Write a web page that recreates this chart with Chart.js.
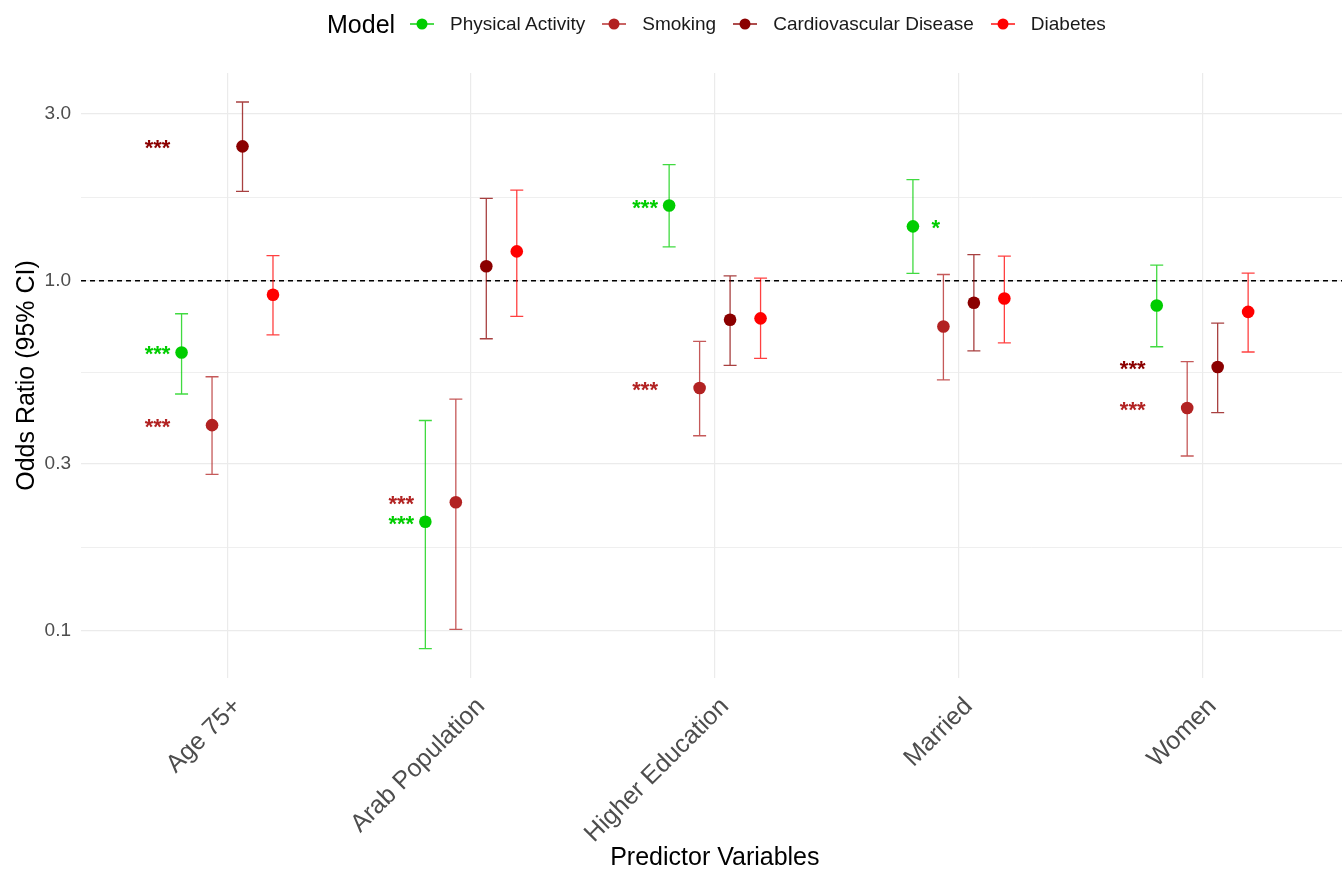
<!DOCTYPE html><html lang="en"><head><meta charset="utf-8">
<title>Odds ratios by model</title>
<script src="https://cdn.jsdelivr.net/npm/chart.js@4.4.1/dist/chart.umd.min.js"></script>
<style>
body { margin: 0; background: #fff; font-family: "Liberation Sans", Arial, sans-serif; overflow: hidden; }
#wrap { position: relative; width: 1342px; height: 871px; overflow: hidden; }
#legend { position: absolute; top: 0; left: 327px; height: 48px; display: flex; align-items: center; font-size: 19px; color: #1a1a1a; white-space: nowrap; }
#legend .ttl { font-size: 25px; color: #000; margin-right: 15px; }
#legend .item { display: flex; align-items: center; margin-right: 17px; }
#legend svg { margin-right: 16px; }
</style>
</head><body>
<div id=wrap>
<canvas id=chart width=1355 height=871></canvas>
<div id=legend><span class=ttl>Model</span></div>
</div>

<script>
const categories = ["Age 75+", "Arab Population", "Higher Education", "Married", "Women"];
const models = ["Physical Activity", "Smoking", "Cardiovascular Disease", "Diabetes"];
const colors = ["#00CD00", "#B22222", "#8B0000", "#FF0000"];

// odds ratio and 95% CI, one array per model, in category order
const orPA   = [0.624, 0.205, 1.64, 1.43, 0.850];
const loPA   = [0.475, 0.089, 1.25, 1.05, 0.648];
const hiPA   = [0.805, 0.399, 2.145, 1.944, 1.109];
const orSmk  = [0.387, 0.233, 0.494, 0.740, 0.433];
const loSmk  = [0.280, 0.101, 0.361, 0.521, 0.316];
const hiSmk  = [0.532, 0.459, 0.671, 1.042, 0.588];
const orCvd  = [2.42, 1.10, 0.774, 0.865, 0.567];
const loCvd  = [1.80, 0.683, 0.573, 0.631, 0.420];
const hiCvd  = [3.24, 1.72, 1.033, 1.187, 0.757];
const orDia  = [0.912, 1.213, 0.781, 0.890, 0.815];
const loDia  = [0.701, 0.791, 0.600, 0.665, 0.626];
const hiDia  = [1.179, 1.816, 1.018, 1.176, 1.052];

// significance stars: category index, model index, label
const sigCat   = [0, 0, 0, 1, 1, 2, 2, 3, 4, 4];
const sigModel = [2, 0, 1, 1, 0, 0, 1, 0, 2, 1];
const sigText  = ["***", "***", "***", "***", "***", "***", "***", "*", "***", "***"];

const yMajor = [0.1, 0.3, 1, 3];
const yMinor = [0.173, 0.548, 1.732];

const est = [orPA, orSmk, orCvd, orDia];
const lo = [loPA, loSmk, loCvd, loDia];
const hi = [hiPA, hiSmk, hiCvd, hiDia];
const dodge = models.map((m, k) => (k - 1.5) * 0.125);

// legend
const legend = document.getElementById("legend");
models.forEach((m, k) => {
  const it = document.createElement("span");
  it.className = "item";
  it.innerHTML = `<svg width="24" height="24"><line x1="0" y1="12" x2="24" y2="12" stroke="${colors[k]}" stroke-width="1.4"/>` +
    `<circle cx="12" cy="12" r="5.5" fill="${colors[k]}"/></svg><span>${m}</span>`;
  legend.appendChild(it);
});

const errorBars = {
  id: "errorBars",
  beforeDatasetsDraw(chart) {
    const { ctx, chartArea, scales: { x, y } } = chart;
    ctx.save();
    // reference line at OR = 1
    const y1 = y.getPixelForValue(1);
    ctx.strokeStyle = "#000";
    ctx.lineWidth = 1.3;
    ctx.setLineDash([5, 4]);
    ctx.beginPath();
    ctx.moveTo(chartArea.left, y1);
    ctx.lineTo(chartArea.right, y1);
    ctx.stroke();
    ctx.setLineDash([]);
    ctx.lineWidth = 1.3;
    ctx.globalAlpha = 0.75;
    models.forEach((m, k) => {
      ctx.strokeStyle = colors[k];
      categories.forEach((c, i) => {
        const px = x.getPixelForValue(i + dodge[k]);
        const t = y.getPixelForValue(hi[k][i]);
        const b = y.getPixelForValue(lo[k][i]);
        ctx.beginPath();
        ctx.moveTo(px, t); ctx.lineTo(px, b);
        ctx.moveTo(px - 6.5, t); ctx.lineTo(px + 6.5, t);
        ctx.moveTo(px - 6.5, b); ctx.lineTo(px + 6.5, b);
        ctx.stroke();
      });
    });
    ctx.restore();
  },
  afterDatasetsDraw(chart) {
    const { ctx, scales: { x, y } } = chart;
    ctx.save();
    ctx.font = "bold 22px 'Liberation Sans', Arial, sans-serif";
    ctx.textAlign = "center";
    ctx.textBaseline = "alphabetic";
    sigCat.forEach((i, n) => {
      const k = sigModel[n];
      const nudge = sigText[n] === "*" ? -0.094 : -0.286;
      ctx.fillStyle = colors[k];
      ctx.fillText(sigText[n], x.getPixelForValue(i + nudge), y.getPixelForValue(est[k][i]) + 9);
    });
    ctx.restore();
  }
};

const datasets = models.map((m, k) => ({
  label: m,
  data: categories.map((c, i) => ({ x: i + dodge[k], y: est[k][i] })),
  backgroundColor: colors[k],
  borderColor: colors[k],
  pointRadius: 6.3,
  pointHoverRadius: 6.3,
  pointBorderWidth: 0,
  showLine: false,
}));

const fam = "'Liberation Sans', Arial, sans-serif";

new Chart(document.getElementById("chart"), {
  type: "scatter",
  data: { datasets },
  plugins: [errorBars],
  options: {
    responsive: false,
    animation: false,
    layout: { padding: { top: 73, right: 0, left: 0, bottom: 0 } },
    plugins: { legend: { display: false }, tooltip: { enabled: false } },
    scales: {
      x: {
        type: "linear",
        min: -0.6,
        max: 4.6,
        afterBuildTicks: s => { s.ticks = categories.map((c, i) => ({ value: i })); },
        afterFit: s => { s.height = 193; },
        ticks: {
          callback: v => categories[v],
          autoSkip: false,
          minRotation: 45,
          maxRotation: 45,
          padding: 14,
          labelOffset: 10,
          color: "#4D4D4D",
          font: { family: fam, size: 25 },
        },
        grid: { color: "#EBEBEB", lineWidth: 1.2, drawTicks: false },
        border: { display: false },
        title: { display: true, text: "Predictor Variables", color: "#000", font: { family: fam, size: 25 }, padding: { top: 4, bottom: -2 } },
      },
      y: {
        type: "logarithmic",
        min: 0.0734,
        max: 3.92,
        afterBuildTicks: s => { s.ticks = [...yMajor, ...yMinor].sort((a, b) => a - b).map(v => ({ value: v })); },
        afterFit: s => { s.width = 81; },
        ticks: {
          callback: v => yMajor.includes(v) ? v.toFixed(1) : "",
          padding: 10,
          color: "#4D4D4D",
          font: { family: fam, size: 19 },
        },
        grid: {
          color: "#EBEBEB",
          lineWidth: c => yMajor.includes(c.tick.value) ? 1.2 : 0.8,
          drawTicks: false,
        },
        border: { display: false },
        title: { display: true, text: "Odds Ratio (95% CI)", color: "#000", font: { family: fam, size: 25 }, padding: { top: 12, bottom: 0 } },
      },
    },
  },
});
</script>
</body></html>
